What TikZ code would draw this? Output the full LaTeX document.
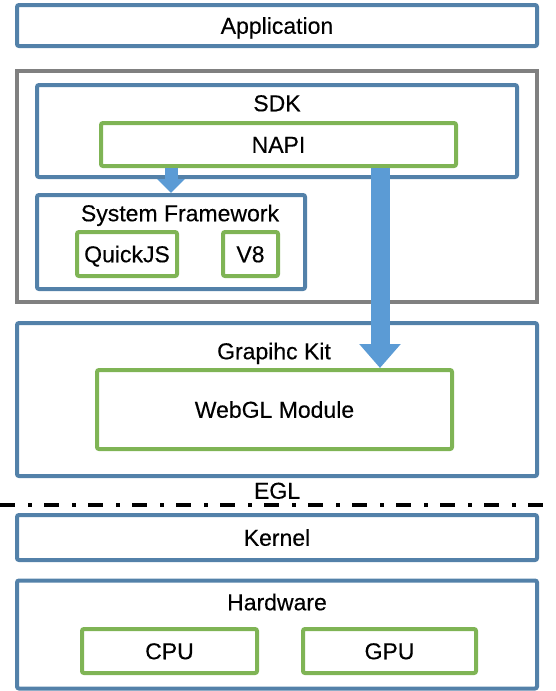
\documentclass[tikz,border=0pt]{standalone}
\usepackage{fontspec}
\setmainfont{Liberation Sans}[FakeBold=0.3]
\usetikzlibrary{arrows.meta}
\definecolor{lyblue}{RGB}{83,129,169}
\definecolor{lygreen}{RGB}{127,180,85}
\definecolor{lygray}{RGB}{128,128,128}
\definecolor{arrowblue}{RGB}{91,155,213}

\begin{document}
\begin{tikzpicture}[x=1pt, y=-1pt,
    every node/.style={font=\fontsize{23}{27}\selectfont, text height=16.5pt, text depth=0pt, inner sep=0pt},
    layer/.style={draw=lyblue, line width=4pt, rounded corners=2pt},
    module/.style={draw=lygreen, line width=4pt, rounded corners=2pt},
    holder/.style={draw=lygray, line width=4pt},
    fatarrow/.style={arrowblue}]
                \useasboundingbox (0,0) rectangle (556,691);

                % Application layer
                \node[layer, minimum width=520pt, minimum height=41pt] (app) at (277,25.5) {Application};

                % Runtime with SDK and system framework
                \node[holder, minimum width=520pt, minimum height=231pt] (runtime) at (277,186.5) {};
                \node[layer, minimum width=480pt, minimum height=92pt] (sdk) at (277,131) {};
                \node (sdklbl) at (277,103) {SDK};
                \node[module, minimum width=355pt, minimum height=43pt] (napi) at (278.5,144.5) {NAPI};
                \node[layer, minimum width=268pt, minimum height=94pt] (sysfw) at (171,242) {};
                \node (sysfwlbl) at (180,213) {System Framework};
                \node[module, minimum width=100pt, minimum height=44pt] (quickjs) at (127,254) {QuickJS};
                \node[module, minimum width=55pt, minimum height=44pt] (v8) at (250.5,254) {V8};

                % Graphic kit
                \node[layer, minimum width=520pt, minimum height=153pt] (gkit) at (277,399.5) {};
                \node (gkitlbl) at (274,351) {Grapihc Kit};
                \node[module, minimum width=355pt, minimum height=79pt] (webgl) at (274.5,409.5) {WebGL Module};

                % EGL boundary
                \node (egl) at (277,490.5) {EGL};
                \draw[line width=4pt, dash pattern=on 15pt off 13pt on 4pt off 12pt] (0,504.5) -- (556,504.5);

                % Kernel and hardware
                \node[layer, minimum width=520pt, minimum height=45pt] (kernel) at (277,537.5) {Kernel};
                \node[layer, minimum width=520pt, minimum height=108pt] (hw) at (277,634.5) {};
                \node (hwlbl) at (277,602) {Hardware};
                \node[module, minimum width=175pt, minimum height=44pt] (cpu) at (169.5,651) {CPU};
                \node[module, minimum width=173pt, minimum height=44pt] (gpu) at (389.5,651) {GPU};

                % Calls
                \coordinate (tap) at (380,0);
                \draw[fatarrow, line width=13pt, -{Triangle[width=27pt,length=14pt]}] (napi.south -| sysfw.north) -- (sysfw.north);
                \draw[fatarrow, line width=19pt, -{Triangle[width=40pt,length=24pt]}] (napi.south -| tap) -- (webgl.north -| tap);
            \end{tikzpicture}
\end{document}
